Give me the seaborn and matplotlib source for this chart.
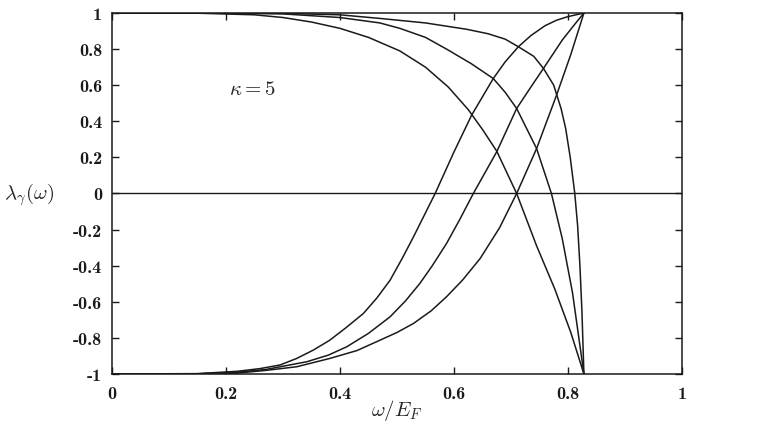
import numpy as np
import pandas as pd
import matplotlib
matplotlib.use("Agg")
import matplotlib.pyplot as plt
import seaborn as sns

# --- data (omega/E_F, lambda_gamma) ---
d1_x = [0.0, 0.15, 0.25, 0.30, 0.35, 0.40, 0.45, 0.505, 0.55, 0.59, 0.625, 0.65, 0.675, 0.710, 0.745, 0.777, 0.805, 0.828]
d1_y = [1.0, 0.999, 0.99, 0.975, 0.95, 0.915, 0.865, 0.79, 0.70, 0.59, 0.465, 0.355, 0.235, 0.0, -0.29, -0.53, -0.77, -1.0]

d2_x = [0.0, 0.2, 0.3, 0.4, 0.47, 0.505, 0.55, 0.587, 0.63, 0.669, 0.69, 0.710, 0.745, 0.771, 0.79, 0.808, 0.828]
d2_y = [1.0, 0.999, 0.995, 0.975, 0.945, 0.915, 0.865, 0.80, 0.72, 0.637, 0.56, 0.471, 0.249, 0.0, -0.25, -0.55, -1.0]

d3_x = [0.0, 0.2, 0.3, 0.4, 0.47, 0.55, 0.622, 0.66, 0.69, 0.713, 0.74, 0.757, 0.775, 0.788, 0.796, 0.804, 0.812, 0.817, 0.821, 0.8245, 0.828]
d3_y = [1.0, 1.0, 0.998, 0.99, 0.97, 0.945, 0.91, 0.885, 0.855, 0.813, 0.76, 0.693, 0.60, 0.47, 0.36, 0.20, 0.0, -0.18, -0.40, -0.65, -1.0]

i1_x = [0.0, 0.15, 0.22, 0.26, 0.295, 0.324, 0.353, 0.382, 0.41, 0.441, 0.465, 0.488, 0.51, 0.529, 0.567, 0.60, 0.631, 0.669, 0.69, 0.713, 0.735, 0.76, 0.78, 0.80, 0.828]
i1_y = [-1.0, -0.998, -0.985, -0.97, -0.95, -0.914, -0.868, -0.813, -0.745, -0.665, -0.578, -0.48, -0.355, -0.24, 0.0, 0.23, 0.434, 0.637, 0.73, 0.813, 0.875, 0.93, 0.96, 0.98, 1.0]

i2_x = [0.0, 0.15, 0.22, 0.27, 0.342, 0.38, 0.412, 0.45, 0.488, 0.515, 0.540, 0.562, 0.587, 0.61, 0.634, 0.675, 0.710, 0.735, 0.757, 0.79, 0.81, 0.828]
i2_y = [-1.0, -0.999, -0.99, -0.975, -0.932, -0.895, -0.849, -0.775, -0.683, -0.595, -0.499, -0.40, -0.277, -0.145, 0.0, 0.231, 0.471, 0.59, 0.693, 0.85, 0.93, 1.0]

i3_x = [0.0, 0.15, 0.22, 0.27, 0.324, 0.382, 0.43, 0.47, 0.50, 0.529, 0.56, 0.587, 0.615, 0.646, 0.680, 0.710, 0.745, 0.78, 0.805, 0.828]
i3_y = [-1.0, -0.999, -0.995, -0.98, -0.96, -0.914, -0.87, -0.813, -0.77, -0.72, -0.65, -0.572, -0.48, -0.36, -0.19, 0.0, 0.249, 0.545, 0.77, 1.0]

x_ticks = [0, 0.2, 0.4, 0.6, 0.8, 1]
x_tick_labels = ["0", "0.2", "0.4", "0.6", "0.8", "1"]
y_ticks = [-1, -0.8, -0.6, -0.4, -0.2, 0, 0.2, 0.4, 0.6, 0.8, 1]
y_tick_labels = ["-1", "-0.8", "-0.6", "-0.4", "-0.2", "0", "0.2", "0.4", "0.6", "0.8", "1"]

curves = {"d1": (d1_x, d1_y), "d2": (d2_x, d2_y), "d3": (d3_x, d3_y),
          "i1": (i1_x, i1_y), "i2": (i2_x, i2_y), "i3": (i3_x, i3_y)}

frames = []
for name, (xs, ys) in curves.items():
    frames.append(pd.DataFrame({"x": xs, "y": ys, "curve": name}))
df = pd.concat(frames, ignore_index=True)

sns.set_theme(style="ticks")
plt.rcParams["font.family"] = ["DejaVu Serif"]
plt.rcParams["mathtext.fontset"] = "cm"

fig = plt.figure(figsize=(7.69, 4.27), dpi=100)
ax = fig.add_axes([0.1456, 0.1218, 0.7412, 0.8454])

sns.lineplot(data=df, x="x", y="y", units="curve", estimator=None, sort=False,
             color="#1a1a1a", linewidth=1.1, ax=ax, legend=False)

ax.axhline(0, color="#1a1a1a", linewidth=1.0)

ax.set_xlim(0, 1)
ax.set_ylim(-1, 1)
ax.set_xticks(x_ticks)
ax.set_yticks(y_ticks)
tick_font = dict(family=["cmb10", "DejaVu Serif"], size=13)
ax.set_xticklabels(x_tick_labels, fontdict=tick_font)
ax.set_yticklabels(y_tick_labels, fontdict=tick_font)
ax.tick_params(direction="in", length=5, width=1.0, top=True, right=True,
               colors="#1a1a1a", pad=7)
ax.tick_params(axis="x", pad=9)
for s in ax.spines.values():
    s.set_linewidth(1.1)
    s.set_color("#1a1a1a")

ax.set_xlabel(r"$\omega/E_F$", fontsize=15, labelpad=-3)
ax.set_ylabel("")
fig.text(0.005, 0.543, r"$\lambda_\gamma(\omega)$", fontsize=15, ha="left", va="center")
ax.text(0.247, 0.58, r"$\kappa = 5$", fontsize=15, ha="center", va="center")

fig.savefig("out.png", dpi=100)
